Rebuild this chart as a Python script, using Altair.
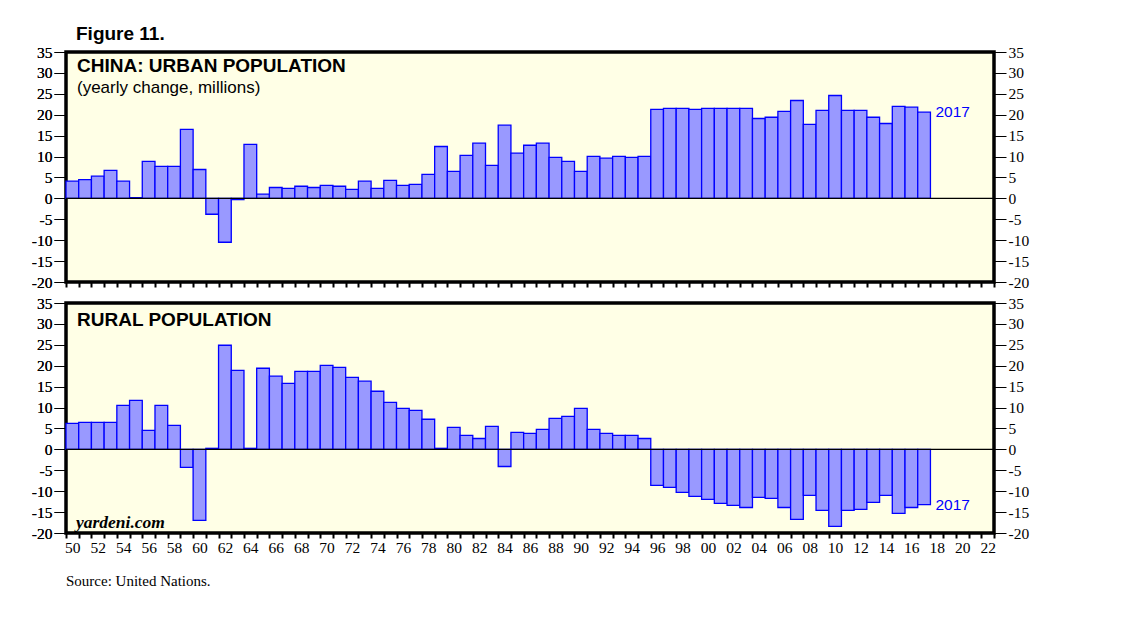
import altair as alt
import pandas as pd

years = list(range(1950, 2018))
urban = [4.1, 4.5, 5.3, 6.7, 4.1, 0.2, 8.85, 7.65, 7.65, 16.5,
         6.9, -3.8, -10.5, -0.3, 12.9, 1.0, 2.6, 2.4, 2.9, 2.6,
         3.1, 2.9, 2.15, 4.1, 2.4, 4.3, 3.1, 3.35, 5.75, 12.4,
         6.45, 10.3, 13.2, 7.9, 17.5, 10.8, 12.7, 13.2, 9.8, 8.85,
         6.45, 10.05, 9.6, 10.05, 9.8, 10.05, 21.3, 21.5, 21.5, 21.3,
         21.5, 21.5, 21.5, 21.5, 19.1, 19.4, 20.8, 23.4, 17.7, 21.05,
         24.6, 21.05, 21.05, 19.4, 17.9, 22.0, 21.8, 20.6]
rural = [6.2, 6.45, 6.45, 6.45, 10.5, 11.7, 4.55, 10.5, 5.75, -4.3,
         -17.0, 0.25, 24.9, 18.9, 0.25, 19.4, 17.5, 15.8, 18.65, 18.65,
         20.1, 19.6, 17.2, 16.3, 13.9, 11.25, 9.8, 9.3, 7.2, 0.25,
         5.25, 3.35, 2.6, 5.5, -4.1, 4.05, 3.8, 4.8, 7.4, 7.9,
         9.8, 4.8, 3.8, 3.35, 3.35, 2.6, -8.6, -9.1, -10.3, -11.25,
         -11.95, -12.9, -13.4, -13.9, -11.5, -11.7, -13.9, -16.75, -11.0, -14.6,
         -18.4, -14.6, -14.35, -12.7, -11.0, -15.3, -13.9, -13.2]
y_ticks = list(range(-20, 40, 5))
x_ticks = list(range(1950, 2024))
last_label = "2017"

W, H = 928, 230
SERIF = "Liberation Serif"
SANS = "Liberation Sans"

xscale = alt.Scale(domain=[1950, 2023], nice=False, zero=False)
yscale = alt.Scale(domain=[-20, 35], nice=False, zero=False)


def yaxis(orient):
    return alt.Axis(orient=orient, values=y_ticks, tickSize=12, tickWidth=1, tickColor="black",
                    domain=False, grid=False, title=None, labelFont=SERIF, labelFontSize=15.5,
                    labelColor="black", labelPadding=2, labelFlush=False, labelOverlap=False,
                    labelExpr="'' + datum.value")


def xaxis(show_labels):
    extra = {} if show_labels else {"minExtent": 5, "maxExtent": 5}
    return alt.Axis(values=x_ticks, tickSize=5, tickWidth=2, tickColor="black", domain=False,
                    grid=False, title=None, labels=show_labels,
                    labelExpr="datum.value % 2 == 0 && datum.value < 2023 ? format(datum.value % 100, '02d') : ''",
                    labelOffset=6.36, labelFlush=False, labelOverlap=False, labelFont=SERIF,
                    labelFontSize=15.5, labelColor="black", labelPadding=2, **extra)


def panel(values, texts, show_labels, title=None, yardeni=False):
    df = pd.DataFrame({"year": years, "end": [y + 1 for y in years], "value": values})
    bars = alt.Chart(df).mark_rect(fill="#9999FF", stroke="#0000FF", strokeWidth=1.3).encode(
        x=alt.X("year:Q", scale=xscale, axis=xaxis(show_labels)),
        x2="end:Q",
        y=alt.Y("value:Q", scale=yscale, axis=yaxis("left")),
        y2=alt.datum(0),
    )
    zero = alt.Chart(pd.DataFrame({"z": [0]})).mark_rule(color="black", strokeWidth=1.2).encode(
        y=alt.Y("z:Q", scale=yscale, axis=yaxis("left"))
    )
    lab = alt.Chart(pd.DataFrame({"year": [years[-1] + 1], "value": [values[-1]], "label": [last_label]})).mark_text(
        align="left", baseline="middle", dx=5, color="#0000FF", font=SANS, fontSize=15.5
    ).encode(
        x=alt.X("year:Q", scale=xscale, axis=xaxis(show_labels)),
        y=alt.Y("value:Q", scale=yscale, axis=yaxis("right")),
        text="label:N",
    )
    layers = [bars, zero, lab]
    for t, yy, size, weight in texts:
        layers.append(
            alt.Chart(pd.DataFrame({"t": [t]})).mark_text(
                align="left", baseline="middle", font=SANS, fontSize=size, fontWeight=weight, color="black"
            ).encode(x=alt.value(11), y=alt.value(yy), text="t:N")
        )
    if yardeni:
        layers.append(
            alt.Chart(pd.DataFrame({"t": ["yardeni.com"]})).mark_text(
                align="left", baseline="middle", font=SERIF, fontSize=17.5, fontWeight="bold",
                fontStyle="italic", color="black"
            ).encode(x=alt.value(10), y=alt.value(H - 10), text="t:N")
        )
    ch = alt.layer(*layers).resolve_axis(y="independent").properties(width=W, height=H)
    if title is not None:
        ch = ch.properties(title=title)
    return ch


top = panel(
    urban,
    [("CHINA: URBAN POPULATION", 14, 19, "bold"), ("(yearly change, millions)", 36, 17, "normal")],
    False,
    title=alt.TitleParams("Figure 11.", anchor="start", frame="group", font=SANS, fontSize=19,
                          fontWeight="bold", color="black", dx=10, offset=1),
)
bottom = panel(
    rural,
    [("RURAL POPULATION", 17, 19, "bold")],
    True,
    title=alt.TitleParams("Source: United Nations.", orient="bottom", anchor="start", frame="group",
                          font=SERIF, fontSize=15, fontWeight="normal", color="black", offset=18),
    yardeni=True,
)

chart = alt.vconcat(top, bottom, spacing=21, bounds="flush").properties(
    padding={"left": 21, "top": 15, "right": 5, "bottom": 5}, background="white"
).configure_view(stroke="black", strokeWidth=3.5, fill="#FFFFE6")

chart.save("out.html", embed_options={"renderer": "svg", "actions": False})
